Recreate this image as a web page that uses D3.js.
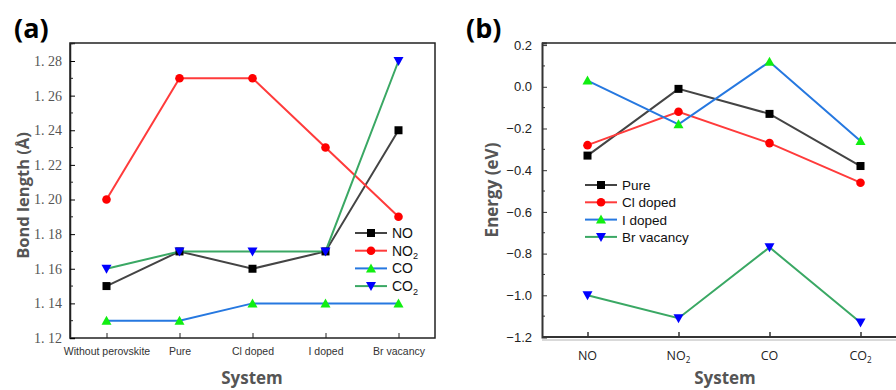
<!DOCTYPE html>
<html>
<head>
<meta charset="utf-8">
<script src="https://cdn.jsdelivr.net/npm/d3@7"></script>
<style>
  body { margin: 0; background: #fff; }
  svg { display: block; }
</style>
</head>
<body>
<svg id="chart" width="896" height="390"></svg>
<script>
// panel (a) data - bond lengths
const sysA = ['Without perovskite', 'Pure', 'Cl doped', 'I doped', 'Br vacancy'];
const bondNO = [1.15, 1.17, 1.16, 1.17, 1.24];
const bondNO2 = [1.20, 1.27, 1.27, 1.23, 1.19];
const bondCO = [1.13, 1.13, 1.14, 1.14, 1.14];
const bondCO2 = [1.16, 1.17, 1.17, 1.17, 1.28];
const ticksA = [1.12, 1.14, 1.16, 1.18, 1.20, 1.22, 1.24, 1.26, 1.28];

// panel (b) data - adsorption energies
const gasB = ['NO', 'NO2', 'CO', 'CO2'];
const ePure = [-0.33, -0.01, -0.13, -0.38];
const eCl = [-0.28, -0.12, -0.27, -0.46];
const eI = [0.03, -0.18, 0.12, -0.26];
const eBr = [-1.00, -1.11, -0.77, -1.13];
const ticksB = [0.2, 0.0, -0.2, -0.4, -0.6, -0.8, -1.0, -1.2];

const svg = d3.select('#chart');

// series style: line colour, marker colour, marker type
const styles = [
  {line: '#444444', fill: '#000000', sym: 'square'},
  {line: '#ff3b3b', fill: '#ff0000', sym: 'circle'},
  {line: '#2678e0', fill: '#11ee11', sym: 'up'},
  {line: '#3aa864', fill: '#0000ff', sym: 'down'}
];

function marker(g, type, x, y, color) {
  if (type === 'square') {
    g.append('rect').attr('x', x - 4).attr('y', y - 4).attr('width', 8).attr('height', 8).attr('fill', color);
  } else if (type === 'circle') {
    g.append('circle').attr('cx', x).attr('cy', y).attr('r', 4.3).attr('fill', color);
  } else if (type === 'up') {
    g.append('path').attr('d', `M${x},${y - 5}L${x + 5},${y + 4}L${x - 5},${y + 4}Z`).attr('fill', color);
  } else {
    g.append('path').attr('d', `M${x},${y + 5}L${x + 5},${y - 4}L${x - 5},${y - 4}Z`).attr('fill', color);
  }
}

// subscript helper for NO2 / CO2
function label(sel, txt, size) {
  const m = txt.match(/^(.*?)(\d)$/);
  if (m) {
    sel.append('tspan').text(m[1]);
    sel.append('tspan').attr('font-size', size * 0.65).attr('dy', size * 0.25).text(m[2]);
  } else {
    sel.text(txt);
  }
}

function drawSeries(g, x, y, cats, series) {
  series.forEach((vals, i) => {
    const st = styles[i];
    const line = d3.line().x((d, j) => x(cats[j])).y(d => y(d));
    g.append('path').attr('d', line(vals)).attr('fill', 'none')
      .attr('stroke', st.line).attr('stroke-width', 2);
  });
  series.forEach((vals, i) => {
    vals.forEach((v, j) => marker(g, styles[i].sym, x(cats[j]), y(v), styles[i].fill));
  });
}

function legend(g, x0, y0, dy, names, font, size, color) {
  names.forEach((n, i) => {
    const yy = y0 + i * dy;
    g.append('line').attr('x1', x0).attr('x2', x0 + 32).attr('y1', yy).attr('y2', yy)
      .attr('stroke', styles[i].line).attr('stroke-width', 2);
    marker(g, styles[i].sym, x0 + 16, yy, styles[i].fill);
    const t = g.append('text').attr('x', x0 + 37).attr('y', yy + 5)
      .attr('font-family', font).attr('font-size', size).attr('fill', color);
    label(t, n, size);
  });
}

// ---------- panel (a) ----------
{
  const left = 70, right = 435, top = 43, bottom = 338;
  const x = d3.scalePoint().domain(sysA).range([left, right]).padding(0.5);
  const y = d3.scaleLinear().domain([1.12, 1.2904]).range([bottom, top]);
  const g = svg.append('g');

  // frame
  g.append('rect').attr('x', left).attr('y', top).attr('width', right - left).attr('height', bottom - top)
    .attr('fill', 'none').attr('stroke', '#222').attr('stroke-width', 1.5);

  const yAxis = d3.axisLeft(y).tickValues(ticksA).tickSize(-5).tickPadding(8)
    .tickFormat(d => d3.format('.2f')(d).replace('.', '. '));
  const ya = g.append('g').attr('transform', `translate(${left},0)`).call(yAxis);
  ya.select('.domain').attr('stroke', '#222').attr('stroke-width', 1.5);
  ya.selectAll('text').attr('font-family', 'Liberation Serif, DejaVu Serif, serif').attr('font-size', 14).attr('fill', '#555');
  // minor ticks
  g.selectAll('.minA').data(d3.range(1.13, 1.29, 0.02)).enter().append('line')
    .attr('x1', left).attr('x2', left + 3).attr('y1', d => y(d)).attr('y2', d => y(d)).attr('stroke', '#222');

  const xAxis = d3.axisBottom(x).tickSize(-5).tickPadding(10);
  const xa = g.append('g').attr('transform', `translate(0,${bottom})`).call(xAxis);
  xa.select('.domain').remove();
  xa.selectAll('line').attr('stroke', '#222');
  xa.selectAll('text').attr('font-family', 'Liberation Sans, Arial, sans-serif').attr('font-size', 10.5).attr('fill', '#333');

  drawSeries(g, x, y, sysA, [bondNO, bondNO2, bondCO, bondCO2]);
  legend(g, 355, 233, 17.7, ['NO', 'NO2', 'CO', 'CO2'], 'Liberation Sans, Arial, sans-serif', 14, '#111');

  g.append('text').attr('transform', `translate(29,${(top + bottom) / 2 + 5}) rotate(-90)`)
    .attr('text-anchor', 'middle').attr('font-family', 'Open Sans, Liberation Sans, sans-serif')
    .attr('font-weight', 'bold').attr('font-size', 16.5).attr('fill', '#555').text('Bond length (Å)');
  g.append('text').attr('x', 252).attr('y', 384).attr('text-anchor', 'middle')
    .attr('font-family', 'Open Sans, Liberation Sans, sans-serif').attr('font-weight', 'bold')
    .attr('font-size', 17).attr('fill', '#555').text('System');
  g.append('text').attr('x', 14).attr('y', 38).attr('font-family', 'Open Sans, Liberation Sans, sans-serif')
    .attr('font-weight', 'bold').attr('font-size', 27).attr('fill', '#000').text('(a)');
}

// ---------- panel (b) ----------
{
  const left = 542, right = 906, top = 43, bottom = 337;
  const x = d3.scalePoint().domain(gasB).range([left, right]).padding(0.5);
  const y = d3.scaleLinear().domain([-1.2, 0.21]).range([bottom, top]);
  const g = svg.append('g');

  g.append('line').attr('x1', left).attr('x2', 896).attr('y1', top).attr('y2', top)
    .attr('stroke', '#222').attr('stroke-width', 1.5);
  g.append('line').attr('x1', left).attr('x2', 896).attr('y1', bottom + 3).attr('y2', bottom + 3)
    .attr('stroke', '#ccc').attr('stroke-width', 1.5);

  const yAxis = d3.axisLeft(y).tickValues(ticksB).tickSize(-5).tickPadding(10)
    .tickFormat(d => d3.format('.1f')(d).replace('-', '\u2212'));
  const ya = g.append('g').attr('transform', `translate(${left},0)`).call(yAxis);
  ya.select('.domain').attr('stroke', '#333').attr('stroke-width', 2);
  ya.selectAll('line').attr('stroke', '#333');
  ya.selectAll('text').attr('font-family', 'Liberation Sans, Arial, sans-serif').attr('font-size', 13).attr('fill', '#222');
  g.selectAll('.minB').data(d3.range(-1.1, 0.2, 0.2)).enter().append('line')
    .attr('x1', left).attr('x2', left + 3).attr('y1', d => y(d)).attr('y2', d => y(d)).attr('stroke', '#333');

  g.append('line').attr('x1', left).attr('x2', 896).attr('y1', bottom).attr('y2', bottom)
    .attr('stroke', '#333').attr('stroke-width', 2);
  const xAxis = d3.axisBottom(x).tickSize(-5).tickPadding(12).tickFormat('');
  const xa = g.append('g').attr('transform', `translate(0,${bottom})`).call(xAxis);
  xa.select('.domain').remove();
  xa.selectAll('line').attr('stroke', '#333').attr('stroke-width', 1.5);
  gasB.forEach(c => {
    const t = g.append('text').attr('x', x(c)).attr('y', bottom + 23).attr('text-anchor', 'middle')
      .attr('font-family', 'Open Sans, Liberation Sans, sans-serif').attr('font-size', 12.5).attr('fill', '#222');
    label(t, c, 12.5);
  });

  drawSeries(g, x, y, gasB, [ePure, eCl, eI, eBr]);
  legend(g, 585, 185, 17.3, ['Pure', 'Cl doped', 'I doped', 'Br vacancy'], 'Liberation Sans, Arial, sans-serif', 13.5, '#111');

  g.append('text').attr('transform', `translate(498,${(top + bottom) / 2}) rotate(-90)`)
    .attr('text-anchor', 'middle').attr('font-family', 'Open Sans, Liberation Sans, sans-serif')
    .attr('font-weight', 'bold').attr('font-size', 17).attr('fill', '#555').text('Energy (eV)');
  g.append('text').attr('x', 725).attr('y', 384).attr('text-anchor', 'middle')
    .attr('font-family', 'Open Sans, Liberation Sans, sans-serif').attr('font-weight', 'bold')
    .attr('font-size', 17).attr('fill', '#555').text('System');
  g.append('text').attr('x', 466).attr('y', 38).attr('font-family', 'Open Sans, Liberation Sans, sans-serif')
    .attr('font-weight', 'bold').attr('font-size', 27).attr('fill', '#000').text('(b)');
}
</script>
</body>
</html>
